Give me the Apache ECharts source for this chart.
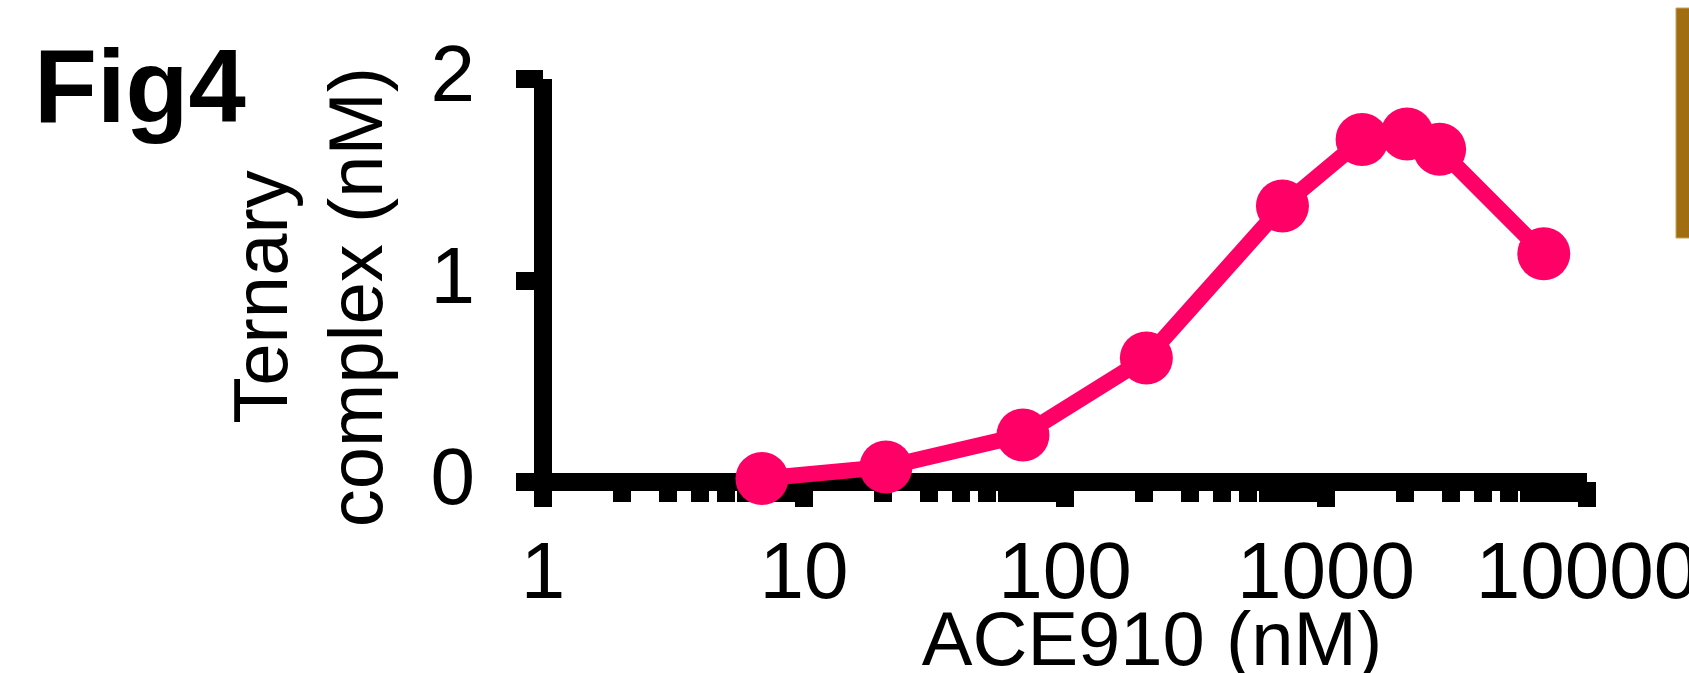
<!DOCTYPE html>
<html>
<head>
<meta charset="utf-8">
<script src="https://cdn.jsdelivr.net/npm/echarts@6/dist/echarts.min.js"></script>
<style>
  html, body { margin: 0; padding: 0; background: #ffffff; }
  #chart { width: 1689px; height: 673px; }
</style>
</head>
<body>
<div id="chart"></div>
<script>
// ---- data ----
const concentrations = [6.9, 20.6, 69, 205, 681, 1375, 2044, 2725, 6830]; // ACE910 (nM)
const ternaryComplex = [0.017, 0.074, 0.233, 0.615, 1.37, 1.70, 1.727, 1.651, 1.133]; // nM
const xMajorTicks = [1, 10, 100, 1000, 10000];
const xMinorTicks = [2, 3, 4, 5, 6, 7, 8, 9,
                     20, 30, 40, 50, 60, 70, 80, 90,
                     200, 300, 400, 500, 600, 700, 800, 900,
                     2000, 3000, 4000, 5000, 6000, 7000, 8000, 9000];
const yTicks = [0, 1, 2];
const figLabel = 'Fig4';
const xTitle = 'ACE910 (nM)';
const yTitle = 'Ternary\ncomplex (nM)';

const FONT = '"Liberation Sans", Arial, Helvetica, sans-serif';
const points = concentrations.map((c, i) => [c, ternaryComplex[i]]);

const chart = echarts.init(document.getElementById('chart'), null, { renderer: 'canvas' });
chart.setOption({
  backgroundColor: '#ffffff',
  animation: false,
  title: {
    text: figLabel,
    left: 34,
    top: 42,
    padding: 0,
    textStyle: { fontFamily: FONT, fontWeight: 'bold', fontSize: 103, lineHeight: 103, color: '#000' }
  },
  grid: { left: 543, right: 102, top: 79, bottom: 191, containLabel: false, outerBoundsMode: 'none' },
  xAxis: [
    {
      type: 'log', logBase: 10, min: 1, max: 10000,
      position: 'bottom',
      name: xTitle,
      nameLocation: 'middle',
      nameGap: 124,
      nameMoveOverlap: false,
      nameTextStyle: { fontFamily: FONT, fontSize: 76, lineHeight: 76, color: '#000', padding: [0, 0, 0, 174] },
      axisLine: { show: true, lineStyle: { color: '#000', width: 18, cap: 'butt' } },
      axisTick: { show: true, length: 25, customValues: xMajorTicks, lineStyle: { color: '#000', width: 18 } },
      axisLabel: {
        customValues: xMajorTicks,
        margin: 54,
        fontFamily: FONT, fontSize: 80, lineHeight: 80, color: '#000',
        formatter: v => String(Math.round(v))
      },
      splitLine: { show: false },
      minorTick: { show: false },
      minorSplitLine: { show: false }
    },
    {
      type: 'log', logBase: 10, min: 1, max: 10000,
      position: 'bottom',
      axisLine: { show: false },
      axisTick: { show: true, length: 20, customValues: xMinorTicks, lineStyle: { color: '#000', width: 18 } },
      axisLabel: { show: false },
      splitLine: { show: false }
    }
  ],
  yAxis: {
    type: 'value', min: 0, max: 2, interval: 1,
    name: yTitle,
    nameLocation: 'middle',
    nameRotate: 90,
    nameGap: 134,
    nameMoveOverlap: false,
    nameTextStyle: { fontFamily: FONT, fontSize: 76, lineHeight: 95, color: '#000', padding: [0, 33, 0, 0] },
    axisLine: { show: true, lineStyle: { color: '#000', width: 18, cap: 'butt' } },
    axisTick: { show: true, length: 27, customValues: yTicks, lineStyle: { color: '#000', width: 18 } },
    axisLabel: {
      customValues: yTicks,
      margin: 68,
      fontFamily: FONT, fontSize: 80, lineHeight: 80, color: '#000'
    },
    splitLine: { show: false }
  },
  graphic: [
    {
      type: 'rect',
      shape: { x: 1676, y: 8, width: 20, height: 230 },
      style: { fill: '#A06E10', stroke: '#C9A25C', lineWidth: 1 },
      silent: true
    }
  ],
  series: [
    {
      type: 'line',
      xAxisIndex: 0,
      data: points,
      clip: false,
      symbol: 'circle',
      symbolSize: 53,
      lineStyle: { color: '#FF0066', width: 16 },
      itemStyle: { color: '#FF0066', borderWidth: 0 },
      z: 5
    }
  ]
});
</script>
</body>
</html>
